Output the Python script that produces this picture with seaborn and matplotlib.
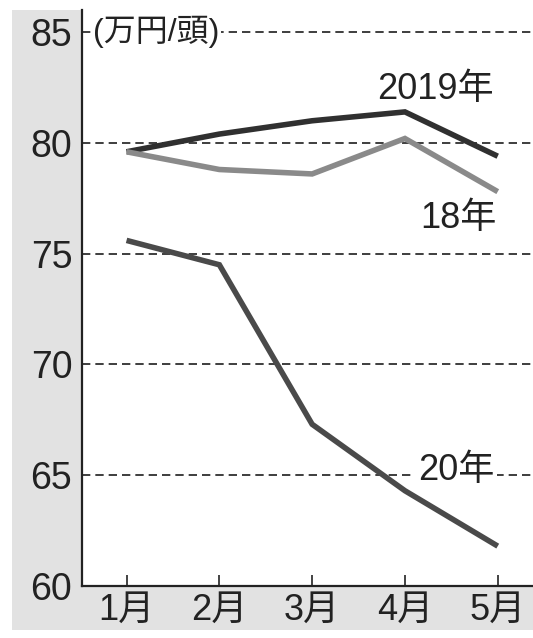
import pandas as pd
import matplotlib.pyplot as plt
import matplotlib.patches as mpatches
import seaborn as sns

# 枝肉価格 (万円/頭) by month
months = ["1月", "2月", "3月", "4月", "5月"]
price_2019 = [79.6, 80.4, 81.0, 81.4, 79.4]
price_2018 = [79.6, 78.8, 78.6, 80.2, 77.8]
price_2020 = [75.6, 74.5, 67.3, 64.3, 61.8]
y_ticks = [60, 65, 70, 75, 80, 85]

sns.set_theme(style="white")
plt.rcParams['font.family'] = ['Liberation Sans', 'Noto Sans CJK JP', 'DejaVu Sans']

df = pd.DataFrame({
    "month": months * 3,
    "price": price_2019 + price_2018 + price_2020,
    "year": ["2019"] * 5 + ["2018"] * 5 + ["2020"] * 5,
})
df["pos"] = df["month"].map({m: i for i, m in enumerate(months)})

fig = plt.figure(figsize=(5.33, 6.38), dpi=100)
fig.patch.set_facecolor("white")
# grey band behind the tick labels
fig.patches.append(mpatches.Rectangle((12 / 533, 8 / 638), 1 - 12 / 533, 1 - 18 / 638,
                                      transform=fig.transFigure, facecolor="#e2e2e2",
                                      edgecolor="none", zorder=-5))

ax = fig.add_axes([82 / 533, 1 - 586 / 638, 1 - 82 / 533, (586 - 10) / 638])
ax.set_zorder(2)
ax.set_facecolor("white")

palette = {"2019": "#303030", "2018": "#8a8a8a", "2020": "#4a4a4a"}
sns.lineplot(data=df, x="pos", y="price", hue="year", palette=palette,
             linewidth=4.0, legend=False, ax=ax, zorder=3)
for line in ax.get_lines():
    line.set_solid_capstyle("butt")
    line.set_solid_joinstyle("miter")

ax.set_xlim(-0.48, 4.38)
ax.set_ylim(60, 86.0)
ax.set_yticks(y_ticks)
ax.set_yticklabels([str(t) for t in y_ticks])
ax.set_xticks(range(len(months)))
ax.set_xticklabels(months)
ax.set_xlabel("")
ax.set_ylabel("")

for t in y_ticks[1:]:
    ax.axhline(t, color="#1e1e1e", linewidth=1.2, linestyle=(0, (5, 3)), zorder=1)

for side in ["top", "right"]:
    ax.spines[side].set_visible(False)
for side in ["left", "bottom"]:
    ax.spines[side].set_color("#222222")
    ax.spines[side].set_linewidth(1.6)

ax.tick_params(axis="y", length=0, pad=7, labelsize=27, labelcolor="#222222")
ax.tick_params(axis="x", direction="in", length=8, width=1.2, color="#222222",
               pad=5, labelsize=26, labelcolor="#222222", bottom=True)

ax.text(-0.36, 85, "(万円/頭)", fontsize=23, color="#222222", va="center", ha="left",
        bbox=dict(facecolor="white", edgecolor="none", pad=1), zorder=4)
ax.text(3.33, 82.4, "2019年", fontsize=26, color="#222222", ha="center", va="center", zorder=4)
ax.text(3.58, 76.6, "18年", fontsize=26, color="#222222", ha="center", va="center", zorder=4)
ax.text(3.55, 65.2, "20年", fontsize=26, color="#222222", ha="center", va="center",
        bbox=dict(facecolor="white", edgecolor="none", pad=2), zorder=2)

fig.savefig("out.png", dpi=100)
